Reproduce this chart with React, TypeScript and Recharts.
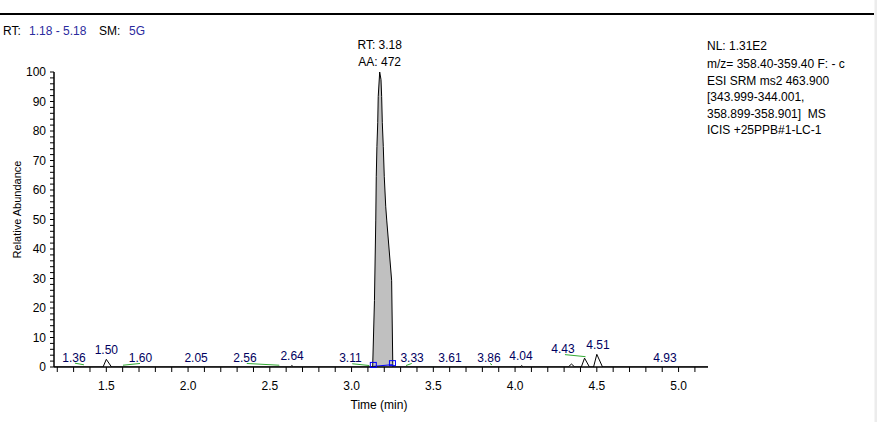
import React from 'react';
import { ComposedChart, Line, Area, XAxis, YAxis, ReferenceLine, ReferenceDot } from 'recharts';

const FONT = '"Liberation Sans", Arial, sans-serif';

// Chromatogram trace (time in min, relative abundance in %)
const traceTime = [1.18, 1.48, 1.5, 1.532, 2.625, 2.635, 2.645, 3.12, 3.129, 3.14, 3.148, 3.151, 3.155, 3.16, 3.163, 3.172, 3.18, 3.184, 3.188, 3.194, 3.2, 3.209, 3.215, 3.245, 3.252, 3.253, 4.03, 4.04, 4.05, 4.325, 4.345, 4.365, 4.405, 4.425, 4.455, 4.48, 4.5, 4.535, 5.18];
const traceAbundance = [0, 0, 2.6, 0, 0, 0.5, 0, 0, 0, 22.6, 49.8, 64.5, 74.7, 82.8, 91.7, 100, 97.4, 91.7, 82.8, 74.7, 64.5, 54.3, 49.8, 29.4, 1.2, 0, 0, 0.5, 0, 0, 1.0, 0, 0, 3.0, 0, 0, 4.3, 0, 0];
const peakStart = 3.129;
const peakEnd = 3.253;

// Peak labels
const labelTexts = ['1.36', '1.50', '1.60', '2.05', '2.56', '2.64', '3.11', '3.33', '3.61', '3.86', '4.04', '4.43', '4.51', '4.93'];
const labelTime = [1.302, 1.5, 1.709, 2.049, 2.348, 2.636, 2.993, 3.37, 3.602, 3.84, 4.036, 4.293, 4.507, 4.917];
const labelLevel = [3.2, 6.0, 3.2, 3.2, 3.2, 3.9, 3.2, 3.2, 3.2, 3.2, 3.9, 6.3, 7.5, 3.1];

// Main peak annotation
const mainPeakTime = 3.172;
const mainPeakLevel = 100;
const mainPeakLines = ['RT: 3.18', 'AA: 472'];

// Integration baselines (green)
const baseStartTime = [1.308, 1.602, 2.359, 3.004, 3.333, 3.847, 4.305];
const baseStartLevel = [1.3, 0.6, 1.2, 1.1, 0.5, 1.2, 4.2];
const baseEndTime = [1.363, 1.706, 2.558, 3.108, 3.368, 3.859, 4.431];
const baseEndLevel = [0.75, 1.2, 0.6, 0.5, 1.2, 0.7, 3.5];

// Main peak integration markers (blue)
const markerTime = [3.133, 3.25];
const markerLevel = [0.2, 0.8];

const xTicks = [1.2, 1.3, 1.4, 1.5, 1.6, 1.7, 1.8, 1.9, 2.0, 2.1, 2.2, 2.3, 2.4, 2.5, 2.6, 2.7, 2.8, 2.9, 3.0, 3.1, 3.2, 3.3, 3.4, 3.5, 3.6, 3.7, 3.8, 3.9, 4.0, 4.1, 4.2, 4.3, 4.4, 4.5, 4.6, 4.7, 4.8, 4.9, 5.0, 5.1];
const yTicks = [0, 2, 4, 6, 8, 10, 12, 14, 16, 18, 20, 22, 24, 26, 28, 30, 32, 34, 36, 38, 40, 42, 44, 46, 48, 50, 52, 54, 56, 58, 60, 62, 64, 66, 68, 70, 72, 74, 76, 78, 80, 82, 84, 86, 88, 90, 92, 94, 96, 98, 100];

const headerParts = [
  { text: 'RT:', color: '#000000' },
  { text: '1.18 - 5.18', color: '#2b2b9e' },
  { text: 'SM:', color: '#000000' },
  { text: '5G', color: '#2b2b9e' },
];
const infoLines = ['NL: 1.31E2', 'm/z= 358.40-359.40 F: - c', 'ESI SRM ms2 463.900', '[343.999-344.001,', '358.899-358.901]  MS', 'ICIS +25PPB#1-LC-1'];

const rows = traceTime.map((t, i) => ({
  t,
  v: traceAbundance[i],
  peak: t >= peakStart && t <= peakEnd ? traceAbundance[i] : null,
}));

const XTick = (props: any) => {
  const { x, y, payload } = props;
  const v = payload.value as number;
  if (Math.abs(v * 2 - Math.round(v * 2)) > 1e-6) return <g />;
  return (
    <text x={x} y={y} dy="0.71em" textAnchor="middle" fontSize={12} fontFamily={FONT} fill="#000">
      {v.toFixed(1)}
    </text>
  );
};

const YTick = (props: any) => {
  const { x, y, payload } = props;
  const v = payload.value as number;
  if (v % 10 !== 0) return <g />;
  return (
    <text x={x} y={y} dy="0.35em" textAnchor="end" fontSize={12} fontFamily={FONT} fill="#000">
      {v}
    </text>
  );
};

const headerX = [3, 29, 99, 129];
const infoBaselines = [50, 68, 84.5, 101, 117.5, 134];

export default function App() {
  return (
    <div style={{ position: 'absolute', left: 0, top: 0, width: 880, height: 422, background: '#fff' }}>
      <ComposedChart
        width={880}
        height={422}
        data={rows}
        margin={{ top: 72, right: 172, bottom: 0, left: 0 }}
      >
        <XAxis
          type="number"
          dataKey="t"
          domain={[1.18, 5.18]}
          allowDataOverflow
          ticks={xTicks}
          interval={0}
          height={55}
          tickSize={5}
          tickMargin={9}
          tick={<XTick />}
          axisLine={{ stroke: '#000', strokeWidth: 1.5 }}
          tickLine={{ stroke: '#000' }}
          label={{
            content: (p: any) => {
              const vb = p.viewBox;
              return (
                <text x={vb.x + vb.width / 2 - 2} y={vb.y + 41.5} textAnchor="middle" fontSize={12} fontFamily={FONT} fill="#000">
                  Time (min)
                </text>
              );
            },
          }}
        />
        <YAxis
          type="number"
          domain={[0, 100]}
          allowDataOverflow
          ticks={yTicks}
          interval={0}
          width={54}
          tickSize={4}
          tickMargin={4}
          tick={<YTick />}
          axisLine={{ stroke: '#000', strokeWidth: 1.5 }}
          tickLine={{ stroke: '#000' }}
          label={{
            content: (p: any) => {
              const vb = p.viewBox;
              const cx = 21;
              const cy = vb.y + vb.height / 2 - 10;
              return (
                <text x={cx} y={cy} textAnchor="middle" fontSize={11} fontFamily={FONT} fill="#000" transform={`rotate(-90 ${cx} ${cy})`}>
                  Relative Abundance
                </text>
              );
            },
          }}
        />
        <Area
          type="linear"
          dataKey="peak"
          stroke="none"
          fill="#c0c0c0"
          fillOpacity={1}
          connectNulls={false}
          isAnimationActive={false}
          activeDot={false}
          dot={false}
        />
        <Line
          type="linear"
          dataKey="v"
          stroke="#000"
          strokeWidth={1}
          dot={false}
          activeDot={false}
          isAnimationActive={false}
        />
        {baseStartTime.map((t, i) => (
          <ReferenceLine
            key={'b' + i}
            segment={[
              { x: t, y: baseStartLevel[i] },
              { x: baseEndTime[i], y: baseEndLevel[i] },
            ]}
            stroke="#33aa33"
            strokeWidth={1}
          />
        ))}
        <ReferenceLine
          segment={[
            { x: markerTime[0], y: markerLevel[0] },
            { x: markerTime[1], y: markerLevel[1] },
          ]}
          stroke="#0000ff"
          strokeWidth={1}
        />
        {markerTime.map((t, i) => (
          <ReferenceDot
            key={'m' + i}
            x={t}
            y={markerLevel[i]}
            r={3}
            ifOverflow="visible"
            shape={(p: any) => (
              <rect x={p.cx - 3} y={p.cy - 4} width={6} height={5} fill="none" stroke="#0000ff" strokeWidth={1} />
            )}
          />
        ))}
        {labelTexts.map((txt, i) => (
          <ReferenceDot
            key={'l' + i}
            x={labelTime[i]}
            y={labelLevel[i]}
            r={1}
            ifOverflow="visible"
            shape={(p: any) => (
              <text x={p.cx} y={p.cy + 4.3} textAnchor="middle" fontSize={12} fontFamily={FONT} fill="#000060">
                {txt}
              </text>
            )}
          />
        ))}
        <ReferenceDot
          x={mainPeakTime}
          y={mainPeakLevel}
          r={1}
          ifOverflow="visible"
          shape={(p: any) => (
            <g>
              <text x={p.cx} y={p.cy - 23} textAnchor="middle" fontSize={12} fontFamily={FONT} fill="#000">
                {mainPeakLines[0]}
              </text>
              <text x={p.cx} y={p.cy - 6.5} textAnchor="middle" fontSize={12} fontFamily={FONT} fill="#000">
                {mainPeakLines[1]}
              </text>
            </g>
          )}
        />
      </ComposedChart>
      <svg
        width={880}
        height={422}
        style={{ position: 'absolute', left: 0, top: 0, pointerEvents: 'none' }}
      >
        <rect x={0} y={13} width={874} height={2} fill="#000" />
        <rect x={874.5} y={0} width={2.5} height={422} fill="#ececec" />
        {headerParts.map((h, i) => (
          <text key={'h' + i} x={headerX[i]} y={34.5} fontSize={12} fontFamily={FONT} fill={h.color}>
            {h.text}
          </text>
        ))}
        {infoLines.map((line, i) => (
          <text key={'i' + i} x={707} y={infoBaselines[i]} fontSize={12} fontFamily={FONT} fill="#000" style={{ whiteSpace: 'pre' }}>
            {line}
          </text>
        ))}
      </svg>
    </div>
  );
}
